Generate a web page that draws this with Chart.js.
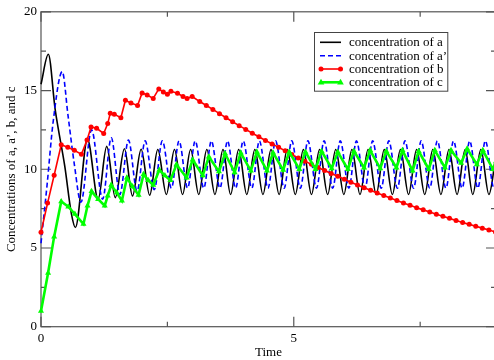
<!DOCTYPE html>
<html><head><meta charset="utf-8">
<script src="https://cdn.jsdelivr.net/npm/chart.js@4/dist/chart.umd.min.js"></script>
<style>html,body{margin:0;padding:0;overflow:hidden;background:#fff}#wrap{width:500px;height:360px}</style>
</head><body><div id="wrap"><canvas id="c" width="500" height="360"></canvas></div>
<script>
// ---- data ----
const seriesNames = ['concentration of a', 'concentration of a’', 'concentration of b', 'concentration of c'];
const xTickLabels = [0, 5];
const yTickLabels = [0, 5, 10, 15, 20];

const aTime = [0, 0.145, 0.28, 0.47, 0.60, 0.68, 0.92, 1.13, 1.30, 1.47, 1.65, 1.81, 1.98, 2.15, 2.31, 2.48,
  2.64, 2.80, 2.96, 3.12, 3.28, 3.44, 3.60, 3.75, 3.91, 4.07, 4.23, 4.39, 4.55, 4.71, 4.87, 5.03, 5.19, 5.35,
  5.51, 5.67, 5.83, 5.99, 6.15, 6.31, 6.47, 6.63, 6.79, 6.95, 7.11, 7.27, 7.43, 7.59, 7.75, 7.91, 8.07, 8.23,
  8.39, 8.54, 8.70, 8.86, 9.0];
const aValues = [15.4, 17.3, 13.8, 10.2, 7.2, 6.3, 11.9, 8.1, 11.45, 8.2, 11.3, 8.3, 11.27, 8.35, 11.25, 8.4,
  11.25, 8.4, 11.25, 8.4, 11.25, 8.4, 11.25, 8.4, 11.25, 8.4, 11.25, 8.4, 11.25, 8.4, 11.25, 8.4, 11.25, 8.4,
  11.25, 8.4, 11.25, 8.4, 11.25, 8.4, 11.25, 8.4, 11.25, 8.4, 11.25, 8.4, 11.25, 8.4, 11.25, 8.4, 11.25, 8.4,
  11.25, 8.4, 11.25, 8.4, 10.9];

const apTime = [0, 0.12, 0.24, 0.42, 0.535, 0.66, 0.79, 1.0, 1.22, 1.39, 1.56, 1.73, 1.90, 2.06, 2.24, 2.40,
  2.58, 2.73, 2.90, 3.05, 3.22, 3.37, 3.54, 3.69, 3.85, 4.00, 4.17, 4.32, 4.49, 4.64, 4.81, 4.96, 5.13, 5.28,
  5.45, 5.60, 5.77, 5.92, 6.09, 6.24, 6.41, 6.56, 6.73, 6.88, 7.05, 7.20, 7.37, 7.52, 7.69, 7.84, 8.01, 8.16,
  8.33, 8.48, 8.64, 8.79, 8.96, 9.0];
const apValues = [5.3, 9.0, 13.0, 16.2, 13.4, 10.3, 7.9, 12.5, 8.1, 12.0, 8.4, 11.85, 8.6, 11.8, 8.7, 11.8,
  8.8, 11.8, 8.8, 11.8, 8.8, 11.8, 8.8, 11.8, 8.8, 11.8, 8.8, 11.8, 8.8, 11.8, 8.8, 11.8, 8.8, 11.8,
  8.8, 11.8, 8.8, 11.8, 8.8, 11.8, 8.8, 11.8, 8.8, 11.8, 8.8, 11.8, 8.8, 11.8, 8.8, 11.8, 8.8, 11.8,
  8.8, 11.8, 8.8, 11.8, 8.8, 8.9];

const bTime = [0, 0.13, 0.26, 0.40, 0.53, 0.66, 0.80, 0.91, 0.99, 1.10, 1.24, 1.32, 1.37, 1.45, 1.58, 1.67,
  1.78, 1.91, 2.0, 2.10, 2.22, 2.33, 2.42, 2.50, 2.57, 2.70, 2.81, 2.89, 2.99, 3.14, 3.27, 3.40, 3.53, 3.66,
  3.79, 3.92, 4.05, 4.18, 4.31, 4.44, 4.57, 4.70, 4.83, 4.96, 5.09, 5.22, 5.35, 5.48, 5.61, 5.74, 5.87, 6.00,
  6.13, 6.26, 6.39, 6.52, 6.65, 6.78, 6.91, 7.04, 7.17, 7.30, 7.43, 7.56, 7.69, 7.82, 7.95, 8.08, 8.21, 8.34,
  8.47, 8.60, 8.73, 8.86, 8.99];
const bValues = [6.0, 7.85, 9.62, 11.55, 11.4, 11.2, 10.95, 11.85, 12.68, 12.6, 12.27, 12.9, 13.55, 13.5, 13.27, 14.38,
  14.2, 14.05, 14.85, 14.72, 14.5, 15.1, 14.9, 14.76, 14.95, 14.83, 14.62, 14.5, 14.62, 14.3, 14.05, 13.8, 13.53, 13.27,
  13.02, 12.77, 12.53, 12.29, 12.06, 11.83, 11.61, 11.39, 11.18, 10.93, 10.72, 10.51, 10.31, 10.11, 9.92, 9.73, 9.55, 9.37,
  9.18, 9.0, 8.83, 8.66, 8.49, 8.33, 8.17, 8.01, 7.86, 7.71, 7.56, 7.42, 7.28, 7.14, 7.01, 6.88, 6.75, 6.62,
  6.5, 6.38, 6.26, 6.14, 6.02];

const cTime = [0, 0.14, 0.26, 0.40, 0.54, 0.67, 0.84, 0.92, 1.0, 1.13, 1.26, 1.32, 1.39, 1.50, 1.60, 1.70,
  1.81, 1.93, 2.03, 2.12, 2.22, 2.34, 2.45, 2.56, 2.68, 2.88, 3.00, 3.20, 3.32, 3.52, 3.64, 3.83, 3.95, 4.15,
  4.27, 4.47, 4.59, 4.79, 4.91, 5.11, 5.23, 5.43, 5.55, 5.75, 5.87, 6.07, 6.19, 6.39, 6.51, 6.71, 6.83, 7.03,
  7.15, 7.35, 7.47, 7.67, 7.79, 7.99, 8.11, 8.31, 8.43, 8.62, 8.74, 8.94, 9.0];
const cValues = [1.0, 3.41, 5.72, 7.95, 7.62, 7.15, 6.52, 7.68, 8.6, 8.1, 7.68, 8.31, 9.0, 8.5, 8.0, 9.46,
  8.9, 8.37, 9.68, 9.3, 9.0, 9.95, 9.6, 9.3, 10.3, 9.46, 10.6, 9.6, 10.8, 9.85, 11.0, 9.8, 11.05, 9.9,
  11.1, 9.9, 11.05, 9.95, 11.1, 10.0, 11.1, 10.0, 11.15, 10.05, 11.1, 10.0, 11.15, 10.1, 11.2, 10.05, 11.15, 10.1,
  11.2, 9.9, 11.15, 10.0, 11.2, 10.1, 11.2, 10.4, 11.3, 10.3, 11.2, 10.0, 10.5];

// ---- chart ----
const pts = (xs, ys) => xs.map((x, i) => ({x: x, y: ys[i]}));
const FONT = "'Liberation Serif', 'Times New Roman', serif";
const AX = '#555';

const frame = {
  id: 'frame',
  beforeDatasetsDraw(chart) {
    const {ctx, chartArea: ca, scales: {x, y}} = chart;
    ctx.save();
    ctx.strokeStyle = AX; ctx.lineWidth = 1.2;
    ctx.strokeRect(ca.left, ca.top, ca.right - ca.left, ca.bottom - ca.top);
    ctx.beginPath();
    [0, 2.5, 5, 7.5].forEach(v => {
      const px = x.getPixelForValue(v), len = (v % 5 === 0) ? 10 : 5;
      ctx.moveTo(px, ca.bottom); ctx.lineTo(px, ca.bottom - len);
      ctx.moveTo(px, ca.top); ctx.lineTo(px, ca.top + len);
    });
    [0, 2.5, 5, 7.5, 10, 12.5, 15, 17.5, 20].forEach(v => {
      const py = y.getPixelForValue(v), len = (v % 5 === 0) ? 10 : 5;
      ctx.moveTo(ca.left, py); ctx.lineTo(ca.left + len, py);
      ctx.moveTo(ca.right, py); ctx.lineTo(ca.right - len, py);
    });
    ctx.stroke();
    ctx.restore();
  },
  afterDraw(chart) {
    const ctx = chart.ctx;
    ctx.save();
    const bx = 314, by = 32, bw = 133.3, bh = 58.7;
    ctx.fillStyle = '#fff'; ctx.fillRect(bx, by, bw, bh);
    ctx.strokeStyle = '#444'; ctx.lineWidth = 1; ctx.strokeRect(bx + 0.5, by + 0.5, bw, bh);
    const rows = [42.3, 55.7, 69, 82.3];
    chart.data.datasets.forEach((ds, i) => {
      const yy = rows[i];
      ctx.strokeStyle = ds.borderColor; ctx.lineWidth = ds.borderWidth;
      ctx.setLineDash(ds.borderDash || []);
      ctx.beginPath(); ctx.moveTo(320, yy); ctx.lineTo(341, yy); ctx.stroke();
      ctx.setLineDash([]);
      if (ds.pointRadius > 0) {
        [321, 340.5].forEach(px => {
          ctx.fillStyle = ds.pointBackgroundColor;
          ctx.beginPath();
          if (ds.pointStyle === 'triangle') {
            const r = ds.pointRadius;
            ctx.moveTo(px, yy - r); ctx.lineTo(px + r * 0.95, yy + r * 0.6); ctx.lineTo(px - r * 0.95, yy + r * 0.6);
            ctx.closePath();
          } else {
            ctx.arc(px, yy, ds.pointRadius, 0, Math.PI * 2);
          }
          ctx.fill();
        });
      }
      ctx.fillStyle = '#000'; ctx.font = '13px ' + FONT; ctx.textBaseline = 'middle';
      ctx.fillText(ds.label, 349, yy + 0.5);
    });
    ctx.restore();
  }
};

new Chart(document.getElementById('c'), {
  type: 'line',
  data: {
    datasets: [
      {label: seriesNames[0], data: pts(aTime, aValues), borderColor: '#000', borderWidth: 1.6,
       pointRadius: 0, cubicInterpolationMode: 'monotone', order: 3, clip: false},
      {label: seriesNames[1], data: pts(apTime, apValues), borderColor: '#0000ff', borderWidth: 1.6,
       borderDash: [5, 3], pointRadius: 0, cubicInterpolationMode: 'monotone', order: 2, clip: false},
      {label: seriesNames[2], data: pts(bTime, bValues), borderColor: '#ff0000', borderWidth: 1.6,
       pointRadius: 2.5, pointStyle: 'circle', pointBackgroundColor: '#ff0000', pointBorderWidth: 0,
       tension: 0, order: 1, clip: false},
      {label: seriesNames[3], data: pts(cTime, cValues), borderColor: '#00ff00', borderWidth: 2.6,
       pointRadius: 3.5, pointStyle: 'triangle', pointBackgroundColor: '#00ff00', pointBorderWidth: 0,
       tension: 0, order: 0, clip: false}
    ]
  },
  options: {
    responsive: false, animation: false, devicePixelRatio: 1,
    layout: {padding: {top: 9.5, right: 3.5, left: 0, bottom: 0}},
    plugins: {legend: {display: false}, tooltip: {enabled: false}},
    scales: {
      x: {
        type: 'linear', min: 0, max: 9,
        afterBuildTicks: s => { s.ticks = xTickLabels.map(v => ({value: v})); },
        afterFit: s => { s.height = 33.3; },
        grid: {display: false, drawTicks: false}, border: {display: false},
        ticks: {color: '#000', padding: 4, font: {family: FONT, size: 13}, maxRotation: 0},
        title: {display: true, text: 'Time', color: '#000', font: {family: FONT, size: 13}, padding: {top: 0, bottom: 0}}
      },
      y: {
        type: 'linear', min: 0, max: 20,
        afterBuildTicks: s => { s.ticks = yTickLabels.map(v => ({value: v})); },
        afterFit: s => { s.width = 41; },
        grid: {display: false, drawTicks: false}, border: {display: false},
        ticks: {color: '#000', padding: 4, font: {family: FONT, size: 13}},
        title: {display: true, text: 'Concentrations of a, a’, b, and c', color: '#000', font: {family: FONT, size: 13}, padding: {top: 4, bottom: 0}}
      }
    }
  },
  plugins: [frame]
});
</script></body></html>
